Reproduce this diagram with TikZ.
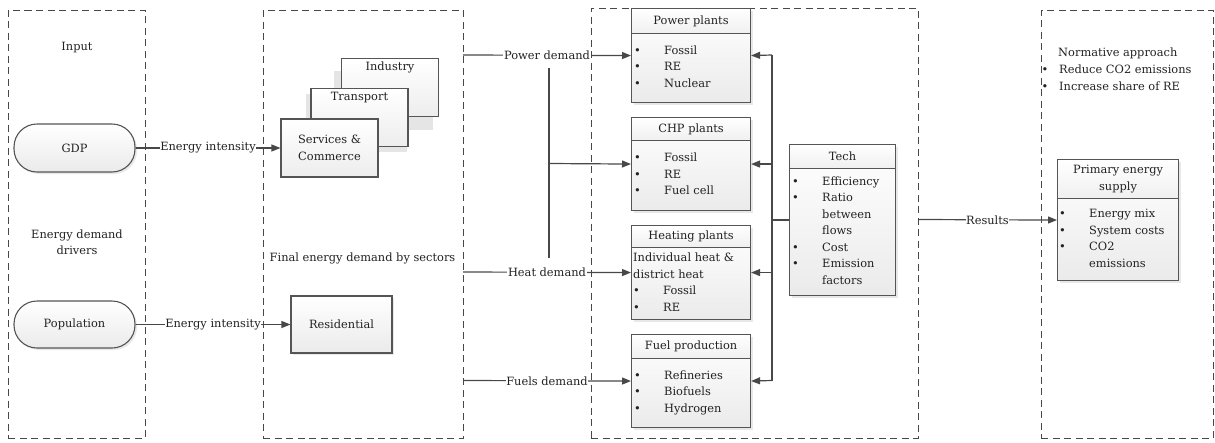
\documentclass[tikz,border=0pt]{standalone}
\usepackage{fontspec}
\setmainfont{DejaVu Serif}
\usetikzlibrary{arrows.meta,shadows,calc}
\definecolor{ln}{HTML}{484848}
\definecolor{tx}{HTML}{222222}
\definecolor{bd}{HTML}{555555}
\tikzset{
  every node/.style={font=\fontsize{11.4}{16.5}\selectfont, text=tx},
  grp/.style={draw=ln, dash pattern=on 7pt off 4.5pt, line width=0.9pt, inner sep=0pt},
  panel/.style={draw=bd, line width=1.1pt, top color=white, bottom color=gray!16, inner sep=0pt,
    drop shadow={shadow xshift=2pt, shadow yshift=-2pt, fill=gray!30, opacity=0.6}},
  head/.style={draw=bd, line width=1.1pt, top color=white, bottom color=gray!12, inner sep=0pt, align=center},
  stackbox/.style={draw=bd, line width=1.1pt, top color=white, bottom color=gray!14, inner sep=0pt, align=center},
  pill/.style={draw=bd, line width=1.1pt, rounded corners=23pt, top color=white, bottom color=gray!16, inner sep=0pt,
    drop shadow={shadow xshift=2pt, shadow yshift=-2pt, fill=gray!30, opacity=0.6}},
  plain/.style={inner sep=0pt, align=center},
  lbl/.style={fill=white, inner sep=0.6pt},
  conn/.style={draw=ln, line width=1.2pt},
  arr/.style={conn, -{Triangle[length=9pt,width=7pt]}},
  bodytxt/.style={inner sep=0pt, anchor=west},
}
\newcommand\blist[1]{\begin{tabular}{@{}p{30pt}@{}l@{}}#1\end{tabular}}
\begin{document}
\begin{tikzpicture}[x=1pt,y=-1pt]
\useasboundingbox (0,0) rectangle (1215,442);
% group frames
\node[grp, minimum width=137, minimum height=428] (inbox) at (76.5,224) {};
\node[grp, minimum width=200, minimum height=428] (secbox) at (363,224) {};
\node[grp, minimum width=327, minimum height=430] (convbox) at (754.5,223) {};
\node[grp, minimum width=172, minimum height=428] (outbox) at (1127,224) {};

% input column
\node[plain] (input) at (77,48) {Input};
\node[plain] (drivers) at (77,242) {Energy demand\\drivers};
\node[pill, minimum width=121, minimum height=48] (gdp) at (74.5,148) {GDP};
\node[pill, minimum width=121, minimum height=47] (pop) at (74.5,324.5) {Population};

% sectors
\fill[gray!20] (334,71) rectangle (433,130);
\node[stackbox, minimum width=97, minimum height=58, anchor=north] (ind) at (390,58) {};
\node[plain, anchor=north] (indt) at (ind.north |- 0,62) {Industry};
\fill[gray!20] (306,94) rectangle (407,152);
\node[stackbox, minimum width=97, minimum height=58, anchor=north] (tra) at (359.5,88) {};
\node[plain, anchor=north] (trat) at (tra.north |- 0,92) {Transport};
\node[stackbox, minimum width=97, minimum height=58] (ser) at (329.5,148) {Services \&\\Commerce};
\node[plain] (fed) at (362.5,258) {Final energy demand by sectors};
\node[panel, minimum width=101, minimum height=57] (res) at (341.5,324.5) {Residential};

\draw[arr] (gdp.east) -- node[lbl] (ei1) {Energy intensity} (ser.west);
\draw[arr] (pop.east) -- node[lbl] (ei2) {Energy intensity} (res.west);

% conversion boxes
% Power plants
\node[panel, minimum width=119, minimum height=94, anchor=north west] (pp) at (631,8) {};
\node[head, minimum width=119, minimum height=25, anchor=north] (pph) at (pp.north) {Power plants};
\node[bodytxt] (ppb) at (634,67.5) {\blist{\textbullet & Fossil\\ \textbullet & RE\\ \textbullet & Nuclear}};
% CHP
\node[panel, minimum width=119, minimum height=93, anchor=north west] (chp) at (631,117) {};
\node[head, minimum width=119, minimum height=23, anchor=north] (chph) at (chp.north) {CHP plants};
\node[bodytxt] (chpb) at (634,175) {\blist{\textbullet & Fossil\\ \textbullet & RE\\ \textbullet & Fuel cell}};
% Heating
\node[panel, minimum width=119, minimum height=94, anchor=north west] (hp) at (631,225) {};
\node[head, minimum width=119, minimum height=22, anchor=north] (hph) at (hp.north) {Heating plants};
\node[bodytxt] (hpb) at (633,283) {\blist{\multicolumn{2}{@{}l@{}}{Individual heat \&}\\ \multicolumn{2}{@{}l@{}}{district heat}\\ \textbullet & Fossil\\ \textbullet & RE}};
% Fuel production
\node[panel, minimum width=119, minimum height=93, anchor=north west] (fp) at (631,334) {};
\node[head, minimum width=119, minimum height=24, anchor=north] (fph) at (fp.north) {Fuel production};
\node[bodytxt] (fpb) at (634,392.5) {\blist{\textbullet & Refineries\\ \textbullet & Biofuels\\ \textbullet & Hydrogen}};
% Tech
\node[panel, minimum width=106, minimum height=151, anchor=north west] (tech) at (789,144) {};
\node[head, minimum width=106, minimum height=24, anchor=north] (techh) at (tech.north) {Tech};
\node[bodytxt] (techb) at (792,231.5) {\blist{\textbullet & Efficiency\\ \textbullet & Ratio\\ & between\\ & flows\\ \textbullet & Cost\\ \textbullet & Emission\\ & factors}};

% demand connectors
\coordinate (pd0) at (463,55);
\coordinate (hd0) at (463,272);
\coordinate (fd0) at (463,380.5);
\coordinate (vtop) at (549,68);
\coordinate (vmid) at (549,163.5);
\coordinate (vbot) at (549,258);
\draw[arr] (pd0) -- node[lbl] (pdl) {Power demand} (pp.west);
\draw[conn] (vtop) -- (vbot);
\draw[arr] (vmid) -- (chp.west);
\draw[arr] (hd0) -- node[lbl] (hdl) {Heat demand} (hp.west);
\draw[arr] (fd0) -- node[lbl] (fdl) {Fuels demand} (fp.west);

% tech bus
\coordinate (busT) at (772,55);
\coordinate (busB) at (772,380.5);
\draw[conn] (busT) -- (busB);
\draw[conn] (tech.west) -- (tech.west -| busT);
\draw[arr] (busT) -- (pp.east);
\draw[arr] (chp.east -| busT) -- (chp.east);
\draw[arr] (hp.east -| busT) -- (hp.east);
\draw[arr] (busB) -- (fp.east);

% output
\node[inner sep=0pt, anchor=north west] (norm) at (1041.5,44.5) {\begin{tabular}{@{}p{17.5pt}@{}l@{}}\multicolumn{2}{@{\hspace{16.5pt}}l@{}}{Normative approach}\\[0.5pt] \textbullet & Reduce CO2 emissions\\[0.5pt] \textbullet & Increase share of RE\end{tabular}};
\node[panel, minimum width=121, minimum height=121, anchor=north west] (pes) at (1057,159) {};
\node[head, minimum width=121, minimum height=39, anchor=north] (pesh) at (pes.north) {Primary energy\\supply};
\node[bodytxt] (pesb) at (1059,239) {\blist{\textbullet & Energy mix\\ \textbullet & System costs\\ \textbullet & CO2\\ & emissions}};
\coordinate (res0) at (918,219.5);
\draw[arr] (res0) -- node[lbl] (resl) {Results} (pes.west);
\end{tikzpicture}
\end{document}
